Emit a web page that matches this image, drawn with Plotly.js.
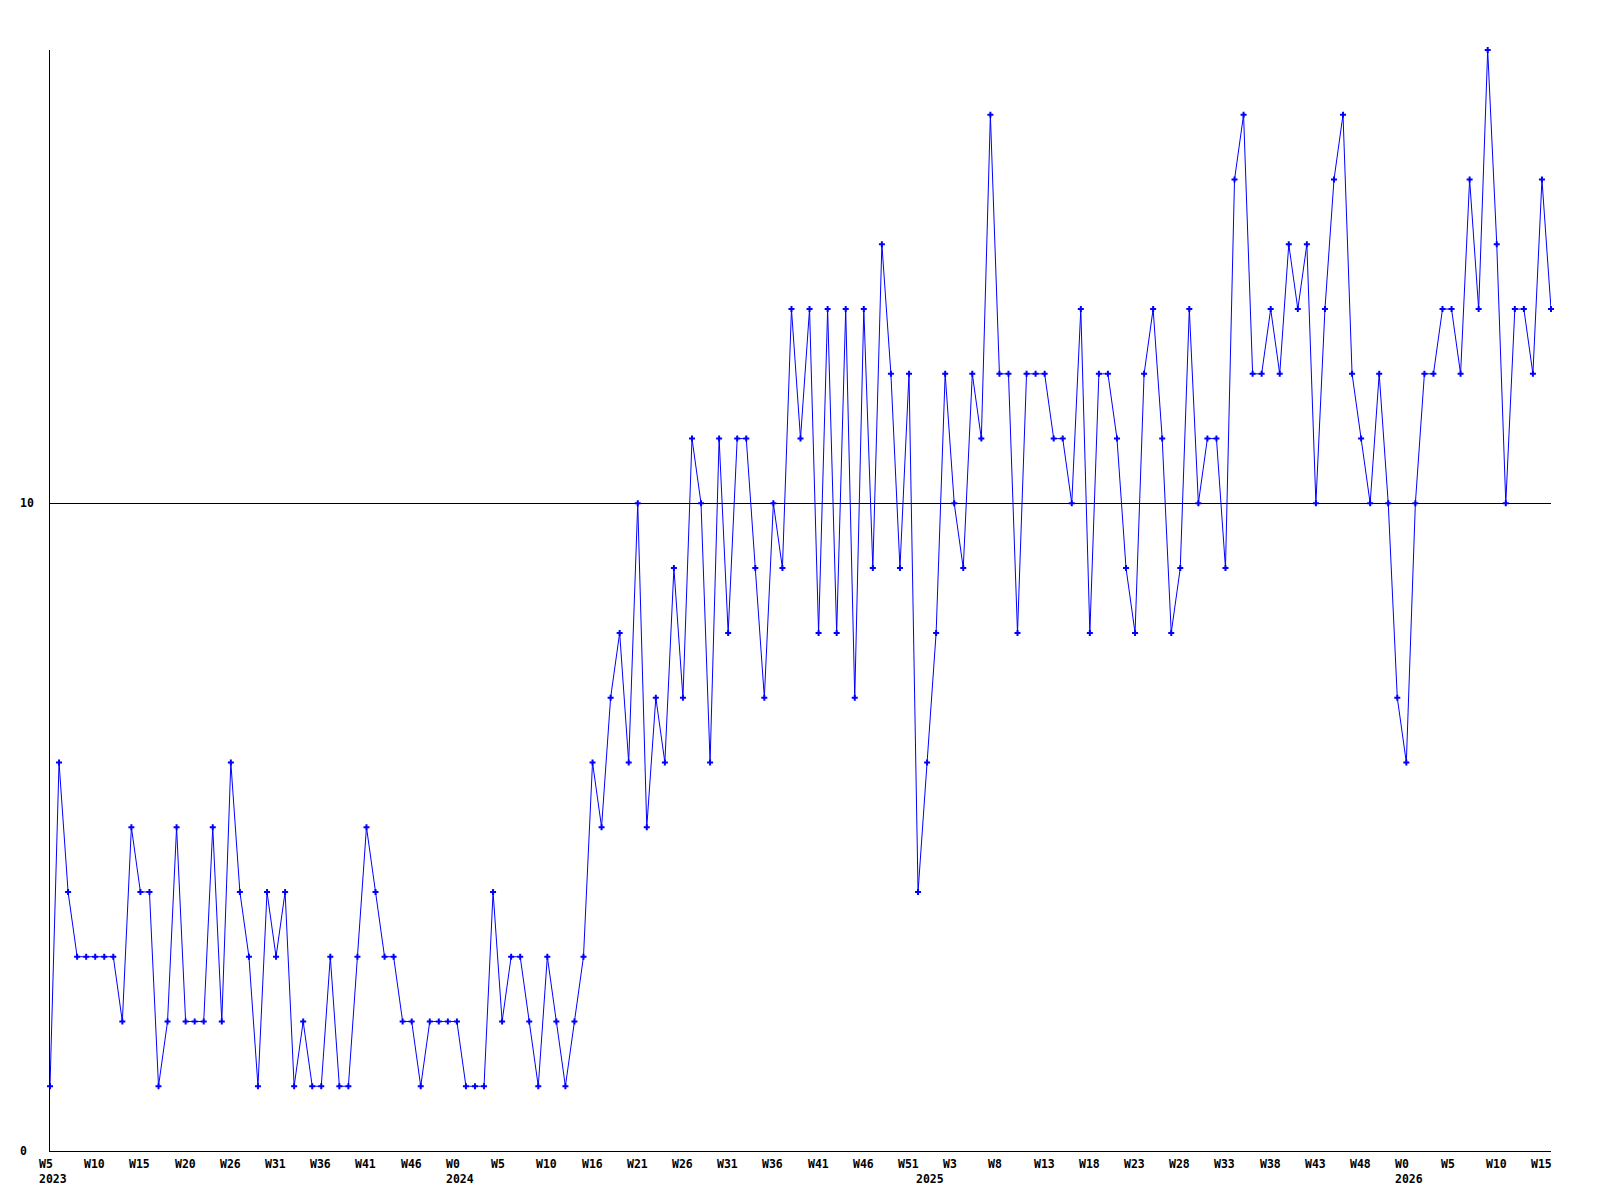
<!DOCTYPE html>
<html>
<head>
<meta charset="utf-8">
<script src="https://cdn.plot.ly/plotly-3.0.1.min.js"></script>
<style>
  html, body { margin: 0; padding: 0; background: #ffffff; }
  #chart { width: 1600px; height: 1200px; }
</style>
</head>
<body>
<div id="chart"></div>
<script>
// Weekly counts, one per week starting 2023 W5 (index 0)
const counts = [
  1,6,4,3,3,3,3,3,2,5,
  4,4,1,2,5,2,2,2,5,2,
  6,4,3,1,4,3,4,1,2,1,
  1,3,1,1,3,5,4,3,3,2,
  2,1,2,2,2,2,1,1,1,4,
  2,3,3,2,1,3,2,1,2,3,
  6,5,7,8,6,10,5,7,6,9,
  7,11,10,6,11,8,11,11,9,7,
  10,9,13,11,13,8,13,8,13,7,
  13,9,14,12,9,12,4,6,8,12,
  10,9,12,11,16,12,12,8,12,12,
  12,11,11,10,13,8,12,12,11,9,
  8,12,13,11,8,9,13,10,11,11,
  9,15,16,12,12,13,12,14,13,14,
  10,13,15,16,12,11,10,12,10,7,
  6,10,12,12,13,13,12,15,13,17,
  14,10,13,13,12,15,13
];

// Week tick labels (position = week index)
const tickIndex = [0,5,10,15,20,25,30,35,40,45,50,55,60,65,70,75,80,85,90,95,100,105,110,115,120,125,130,135,140,145,150,155,160,165];
const tickText  = ["W5","W10","W15","W20","W26","W31","W36","W41","W46","W0","W5","W10","W16","W21","W26","W31","W36","W41","W46","W51","W3","W8","W13","W18","W23","W28","W33","W38","W43","W48","W0","W5","W10","W15"];

// Year labels
const yearIndex = [0,45,97,150];
const yearText  = ["2023","2024","2025","2026"];

// Y axis labels
const yTickVals = [0,10];
const yTickText = ["0","10"];

const weekIdx = counts.map((_, i) => i);

const labelFont = {family: "DejaVu Sans Mono, Liberation Mono, monospace", size: 11.5, color: "#000000", weight: "bold"};

const annotations = [];
tickIndex.forEach((v, k) => {
  annotations.push({
    x: v, xref: "x", y: 0, yref: "paper",
    text: tickText[k], showarrow: false,
    xanchor: "left", yanchor: "middle",
    xshift: -12, yshift: -12.5,
    font: labelFont, borderpad: 0
  });
});
yearIndex.forEach((v, k) => {
  annotations.push({
    x: v, xref: "x", y: 0, yref: "paper",
    text: yearText[k], showarrow: false,
    xanchor: "left", yanchor: "middle",
    xshift: -12, yshift: -28,
    font: labelFont, borderpad: 0
  });
});
yTickVals.forEach((v, k) => {
  annotations.push({
    x: 0, xref: "paper", y: v, yref: "y",
    text: yTickText[k], showarrow: false,
    xanchor: "left", yanchor: "middle",
    xshift: -31, yshift: 0,
    font: labelFont, borderpad: 0
  });
});

const trace = {
  x: weekIdx,
  y: counts,
  type: "scatter",
  mode: "lines+markers",
  line: {color: "#0000ff", width: 1},
  marker: {color: "#0000ff", symbol: "cross", size: 5, line: {width: 0}},
  cliponaxis: false,
  hoverinfo: "x+y"
};

const layout = {
  width: 1600,
  height: 1200,
  margin: {l: 50, r: 49, t: 50, b: 49, pad: 0},
  paper_bgcolor: "#ffffff",
  plot_bgcolor: "#ffffff",
  showlegend: false,
  xaxis: {
    range: [0, counts.length - 1],
    showgrid: false, zeroline: false,
    showline: true, linecolor: "#000000", linewidth: 1,
    ticks: "", showticklabels: false, fixedrange: true
  },
  yaxis: {
    range: [0, 17],
    tickvals: yTickVals,
    showgrid: true, gridcolor: "#000000", gridwidth: 1,
    zeroline: false,
    showline: true, linecolor: "#000000", linewidth: 1,
    ticks: "", showticklabels: false, fixedrange: true
  },
  annotations: annotations
};

Plotly.newPlot("chart", [trace], layout, {displayModeBar: false, staticPlot: true});
</script>
</body>
</html>
